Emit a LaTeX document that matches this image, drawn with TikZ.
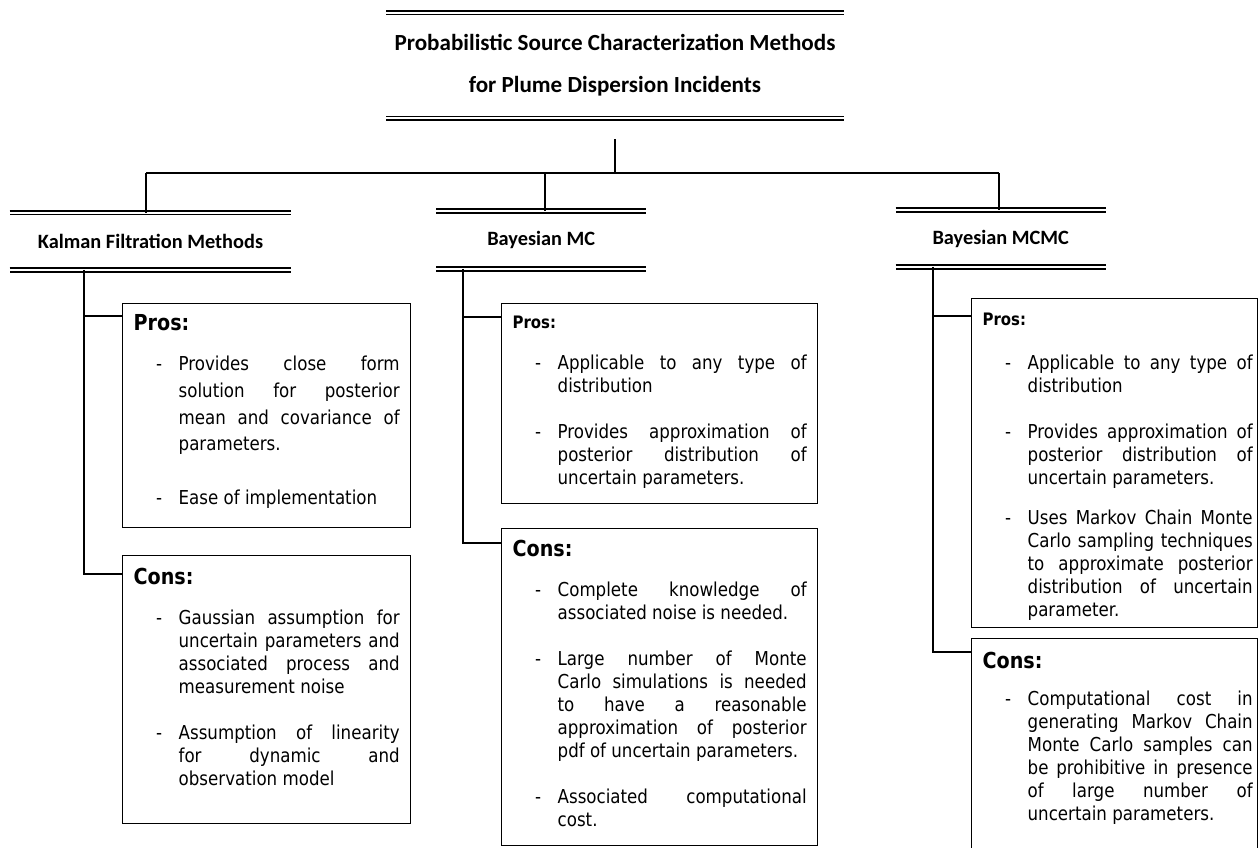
\documentclass[tikz,border=0pt]{standalone}
\usepackage{fontspec}
\setmainfont{Carlito}
\newfontfamily\bodyfont{DejaVu Sans}[FakeStretch=0.87]

% box contents: text width, box height, right pad, text
\newcommand{\cellbody}[4]{%
  \hspace*{6.6pt}\parbox[t][#2][t]{#1}{\hyphenpenalty=10000\parindent=0pt #4}\hspace*{#3}}
\newcommand{\bighead}[1]{{\fontsize{13.2}{15}\selectfont\bfseries #1\par}}
\newcommand{\smallhead}[1]{{\fontsize{10.3}{12}\selectfont\bfseries #1\par}}
\newcommand{\bodysize}[1]{\fontsize{11.5}{#1}\selectfont}
\newcommand{\pitem}[2][\baselineskip]{\par\vspace{#1}\hangindent=27pt\hangafter=1\noindent\hspace*{13.5pt}\makebox[13.5pt][l]{-}#2\par}

\begin{document}
\begin{tikzpicture}[x=0.6pt, y=-0.6pt,
    conn/.style={line width=1pt},
    dblrule/.style={double, double distance=1.1pt, line width=1.1pt},
    headbox/.style={inner sep=0pt, font=\fontsize{12.2}{14}\selectfont\bfseries},
    cellbox/.style={draw, line width=0.8pt, anchor=north west, inner sep=0pt, font=\bodyfont}
    ]
    \useasboundingbox (0,0) rectangle (1259,848);
    %Headings
    \node[headbox, align=center, minimum width=274.2pt, minimum height=63pt,
          font=\fontsize{13.85}{25.2}\selectfont\bfseries] (title) at (615,65.5)
          {Probabilistic Source Characterization Methods\\for Plume Dispersion Incidents};
    \node[headbox, minimum width=168.6pt, minimum height=33.9pt] (kfhead) at (150.5,241.25) {Kalman Filtration Methods};
    \node[headbox, minimum width=125.7pt, minimum height=34.2pt] (bmchead) at (541.25,240) {Bayesian MC};
    \node[headbox, minimum width=125.7pt, minimum height=33.6pt] (mcmchead) at (1000.75,238.5) {Bayesian MCMC};
    \foreach \hd in {title,kfhead,bmchead,mcmchead}{
      \draw[dblrule] (\hd.north west) -- (\hd.north east);
      \draw[dblrule] (\hd.south west) -- (\hd.south east);
    }
    %Boxes
    \node[cellbox] (kfpros) at (122,303) {\cellbody{159.6pt}{134.4pt}{6.6pt}{%
      \vspace*{6.6pt}\bighead{Pros:}\bodysize{16pt}
      \pitem[8pt]{Provides close form\linebreak solution for posterior\linebreak mean and covariance of\linebreak parameters.}
      \pitem{Ease of implementation}}};
    \node[cellbox] (kfcons) at (122,555) {\cellbody{159.6pt}{160.8pt}{6.6pt}{%
      \vspace*{7.8pt}\bighead{Cons:}\bodysize{13.8pt}
      \pitem[10.2pt]{Gaussian assumption for\linebreak uncertain parameters and\linebreak associated process and\linebreak measurement noise}
      \pitem{Assumption of linearity\linebreak for dynamic and\linebreak observation model}}};
    \node[cellbox] (bmcpros) at (501,303) {\cellbody{176.4pt}{120pt}{6.6pt}{%
      \vspace*{7.2pt}\smallhead{Pros:}\bodysize{13.8pt}
      \pitem[11.1pt]{Applicable to any type of\linebreak distribution}
      \pitem{Provides approximation of\linebreak posterior distribution of\linebreak uncertain parameters.}}};
    \node[cellbox] (bmccons) at (501,528) {\cellbody{176.4pt}{190.2pt}{6.6pt}{%
      \vspace*{7.2pt}\bighead{Cons:}\bodysize{13.8pt}
      \pitem[10.2pt]{Complete knowledge of\linebreak associated noise is needed.}
      \pitem{Large number of Monte\linebreak Carlo simulations is needed\linebreak to have a reasonable\linebreak approximation of posterior\linebreak pdf of uncertain parameters.}
      \pitem{Associated computational\linebreak cost.}}};
    \node[cellbox] (mcmcpros) at (971,298) {\cellbody{162pt}{197.4pt}{3pt}{%
      \vspace*{8.4pt}\smallhead{Pros:}\bodysize{13.8pt}
      \pitem[12.9pt]{Applicable to any type of\linebreak distribution}
      \pitem{Provides approximation of\linebreak posterior distribution of\linebreak uncertain parameters.}
      \pitem[10.2pt]{Uses Markov Chain Monte\linebreak Carlo sampling techniques\linebreak to approximate posterior\linebreak distribution of uncertain\linebreak parameter.}}};
    \node[cellbox] (mcmccons) at (971,638) {\cellbody{162pt}{150pt}{3pt}{%
      \vspace*{8.4pt}\bighead{Cons:}\bodysize{13.8pt}
      \pitem[8.4pt]{Computational cost in\linebreak generating Markov Chain\linebreak Monte Carlo samples can\linebreak be prohibitive in presence\linebreak of large number of\linebreak uncertain parameters.}}};
    %Lines
    \coordinate (bus) at (615,173);
    \coordinate (kfdrop) at (146,173);
    \coordinate (bmcdrop) at (545,173);
    \coordinate (mcmcdrop) at (999,173);
    \draw[conn] ([yshift=-12.6pt]title.south) -- (title.south |- bus);
    \draw[conn] (kfdrop) -- (mcmcdrop);
    \draw[conn] (kfdrop) -- (kfdrop |- kfhead.north);
    \draw[conn] (bmcdrop) -- (bmcdrop |- bmchead.north);
    \draw[conn] (mcmcdrop) -- (mcmcdrop |- mcmchead.north);
    \coordinate (kfspine) at (84,0);
    \coordinate (bmcspine) at (463,0);
    \coordinate (mcmcspine) at (933,0);
    \coordinate (kfpa) at ([yshift=-7.8pt]kfpros.north west);
    \coordinate (bmcpa) at ([yshift=-8.4pt]bmcpros.north west);
    \coordinate (mcmcpa) at ([yshift=-10.8pt]mcmcpros.north west);
    \draw[conn] (kfspine |- kfhead.south) |- ([yshift=-11.4pt]kfcons.north west);
    \draw[conn] (kfspine |- kfpa) -- (kfpa);
    \draw[conn] (bmcspine |- bmchead.south) |- ([yshift=-9pt]bmccons.north west);
    \draw[conn] (bmcspine |- bmcpa) -- (bmcpa);
    \draw[conn] (mcmcspine |- mcmchead.south) |- ([yshift=-8.4pt]mcmccons.north west);
    \draw[conn] (mcmcspine |- mcmcpa) -- (mcmcpa);
\end{tikzpicture}
\end{document}
